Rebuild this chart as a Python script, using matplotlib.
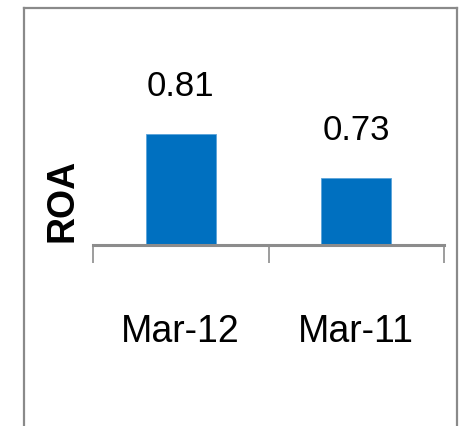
import matplotlib
matplotlib.use("Agg")
import matplotlib.pyplot as plt
from matplotlib.lines import Line2D

periods = ["Mar-12", "Mar-11"]
roa = [0.81, 0.73]
value_labels = ["0.81", "0.73"]

plt.rcParams['font.family'] = ['Liberation Sans Narrow', 'DejaVu Sans Condensed', 'Liberation Sans', 'DejaVu Sans']
plt.rcParams['font.stretch'] = 'condensed'

W, H = 462, 426
fig = plt.figure(figsize=(W / 100, H / 100), dpi=100)

# outer chart frame (open at the bottom, like a cropped screenshot)
frame_col = "#8a8a8a"
fx0, fx1, fy1 = 24 / W, 457 / W, 1 - 8 / H
for xs, ys in [([fx0, fx0], [0, fy1]), ([fx0, fx1], [fy1, fy1]), ([fx1, fx1], [fy1, 0])]:
    fig.add_artist(Line2D(xs, ys, transform=fig.transFigure, color=frame_col, lw=1.6))

# plot area in pixel terms
ax_l, ax_r, ax_b, ax_t = 93, 444, 245, 20
ax = fig.add_axes([ax_l / W, 1 - ax_b / H, (ax_r - ax_l) / W, (ax_b - ax_t) / H])

x = list(range(len(periods)))
bars = ax.bar(x, roa, width=0.4, color="#0070C0", edgecolor="#5BA3DA", linewidth=0.6)

ymin = 0.609
ax.set_ylim(ymin, ymin + (ax_b - ax_t) / 550)
ax.set_xlim(-0.5, len(periods) - 0.5)

for b, lab in zip(bars, value_labels):
    ax.annotate(lab, (b.get_x() + b.get_width() / 2, b.get_height()),
                xytext=(0, 23), textcoords="offset points",
                ha="center", va="bottom", fontsize=25)

for s in ["left", "right", "top"]:
    ax.spines[s].set_visible(False)
ax.spines["bottom"].set_color("#8c8c8c")
ax.spines["bottom"].set_linewidth(2.2)

ax.set_yticks([])
ax.set_xticks(x)
ax.set_xticklabels(periods, fontsize=27)
ax.tick_params(axis="x", which="major", length=0, pad=50)
ax.set_xticks([-0.5, 0.5, 1.5], minor=True)
ax.tick_params(axis="x", which="minor", length=13, width=1.2, color="#8c8c8c", direction="out")

fig.text(63 / W, 1 - 200 / H, "ROA", rotation=90, ha="center", va="center",
         fontsize=27, fontweight="bold", fontstretch="normal",
         family=["Liberation Sans", "DejaVu Sans"])

fig.savefig("out.png", dpi=100)
